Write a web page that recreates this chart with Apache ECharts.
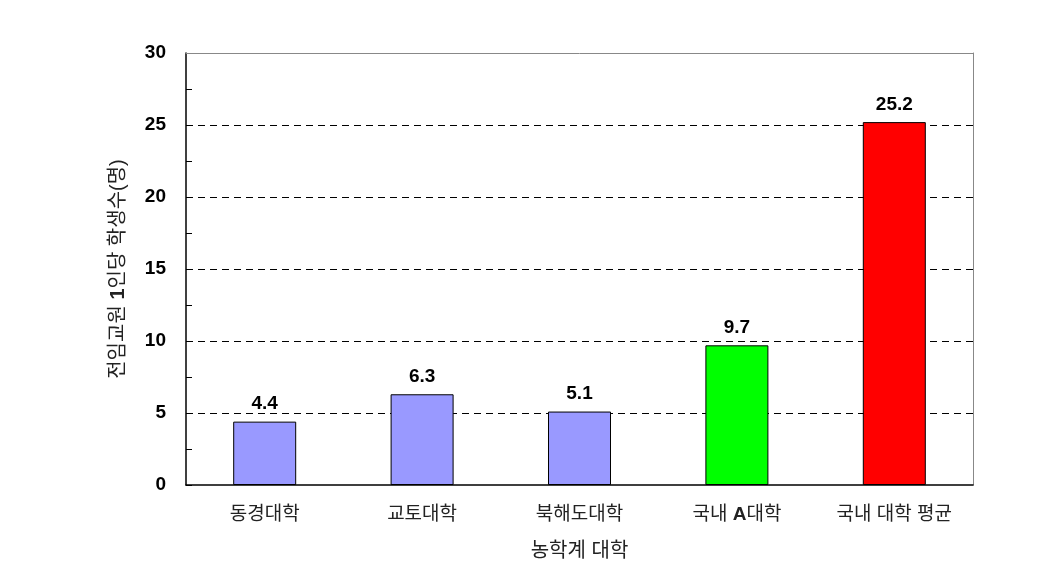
<!DOCTYPE html>
<html><head><meta charset="utf-8">
<script src="https://cdn.jsdelivr.net/npm/echarts@6/dist/echarts.min.js"></script>
<style>html,body{margin:0;padding:0;background:#fff}#c{width:1062px;height:587px}</style>
</head><body><div id="c"></div>
<script>
const categories = ['동경대학', '교토대학', '북해도대학', '국내 A대학', '국내 대학 평균'];
const values = [4.4, 6.3, 5.1, 9.7, 25.2];
const colors = ['#9999FF', '#9999FF', '#9999FF', '#00FF00', '#FF0000'];
const yTicks = [0, 5, 10, 15, 20, 25, 30];
const gridValues = [5, 10, 15, 20, 25];
const FONT = '"Liberation Sans", "Noto Sans CJK KR", sans-serif';

const chart = echarts.init(document.getElementById('c'));
chart.setOption({
  backgroundColor: '#fff',
  animation: false,
  grid: { left: 186, right: 89, top: 53, bottom: 102 },
  xAxis: [{
    type: 'category',
    data: categories,
    z: 5,
    axisLine: { lineStyle: { color: '#000', width: 1.5 } },
    axisTick: { inside: true, length: 6, lineStyle: { color: '#000' } },
    axisLabel: {
      margin: 20, fontSize: 19, color: '#222', fontFamily: FONT,
      formatter: v => v === '국내 A대학' ? '국내 {b|A}대학' : v,
      rich: { b: { fontWeight: 'bold', fontSize: 19, color: '#222', fontFamily: FONT } }
    },
    name: '농학계 대학', nameLocation: 'middle', nameGap: 56,
    nameTextStyle: { fontSize: 20, color: '#222', fontFamily: FONT }
  }, {
    type: 'category', position: 'top', data: categories, z: 10,
    axisLine: { show: true, onZero: false, lineStyle: { color: '#888', width: 1 } },
    axisTick: { show: false }, axisLabel: { show: false }
  }],
  yAxis: [{
    type: 'value', min: 0, max: 30, interval: 5,
    axisLine: { show: true, lineStyle: { color: '#000', width: 1.5 } },
    axisTick: { show: true, inside: true, length: 6, lineStyle: { color: '#000' } },
    minorTick: { show: true, splitNumber: 2, length: 6, lineStyle: { color: '#000' } },
    axisLabel: {
      margin: 20, fontSize: 19, fontWeight: 'bold', color: '#000', fontFamily: FONT,
      formatter: v => yTicks.includes(v) ? String(v) : ''
    },
    splitLine: { show: false },
    name: '전임교원 {b|1}인당 학생수(명)', nameLocation: 'middle', nameGap: 58, nameRotate: 90,
    nameTextStyle: { fontSize: 20, color: '#222', fontFamily: FONT,
      rich: { b: { fontWeight: 'bold', fontSize: 20, color: '#222', fontFamily: FONT } } }
  }, {
    type: 'value', min: 0, max: 30, interval: 5, position: 'right',
    axisLine: { show: true, onZero: false, lineStyle: { color: '#888', width: 1 } },
    axisTick: { show: false }, axisLabel: { show: false }, splitLine: { show: false }
  }],
  series: [{
    type: 'bar',
    barWidth: 63,
    z: 3,
    data: values.map((v, i) => ({ value: v, itemStyle: { color: colors[i] } })),
    itemStyle: { borderColor: '#000', borderWidth: 1 },
    label: {
      show: true, position: 'top', distance: 8,
      fontSize: 19, fontWeight: 'bold', color: '#000', fontFamily: FONT,
      formatter: p => p.value.toFixed(1)
    },
    markLine: {
      silent: true, symbol: 'none', label: { show: false }, z: 1,
      lineStyle: { color: '#000', type: [7, 5], width: 1 },
      data: gridValues.map(v => ({ yAxis: v }))
    }
  }]
});
</script></body></html>
